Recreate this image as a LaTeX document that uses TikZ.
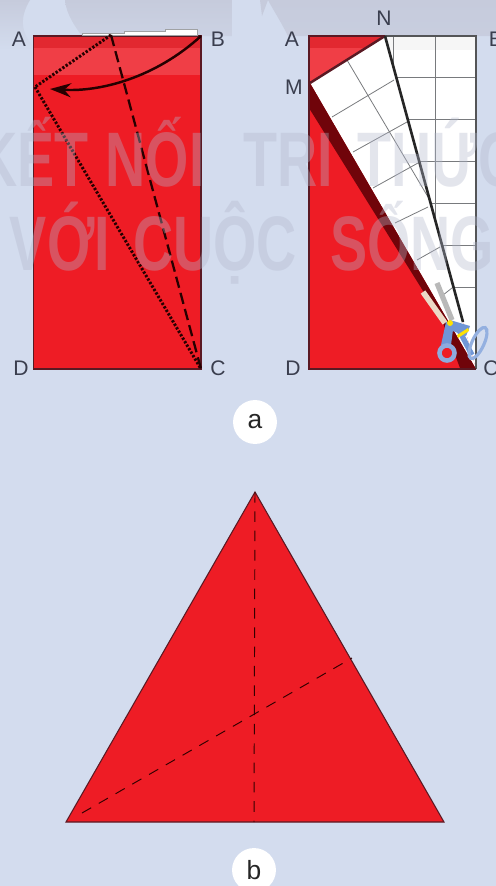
\documentclass[tikz,border=0pt]{standalone}
\usepackage{xcolor}
\usepackage{fontspec}
\setmainfont{Liberation Sans}
\newfontfamily\narrowfont[FakeStretch=0.72]{Liberation Sans}
\usetikzlibrary{arrows.meta}
\definecolor{paperblue}{RGB}{211,220,238}
\definecolor{bandgray}{RGB}{198,203,220}
\definecolor{foldred}{RGB}{238,28,37}
\definecolor{lightred}{RGB}{240,62,70}
\definecolor{midred}{RGB}{226,40,48}
\definecolor{darkred}{RGB}{112,4,10}
\definecolor{edgedark}{RGB}{90,25,35}
\definecolor{labelgray}{RGB}{58,62,78}
\definecolor{gridgray}{RGB}{120,122,125}
\definecolor{markgray}{RGB}{178,183,204}
\definecolor{handleblue}{RGB}{112,150,214}
\tikzset{
  lab/.style={text=labelgray, font=\fontsize{12}{14}\selectfont, inner sep=0pt},
  badge/.style={circle, fill=white, draw=none, minimum size=25pt, inner sep=0pt, text=black!85, font=\fontsize{15}{17}\selectfont},
  sheet/.style={draw=edgedark, line width=0.6pt},
  dottedfold/.style={draw=black!85!red, line width=1.7pt, dash pattern=on 1.3pt off 1pt},
  dashedfold/.style={draw=black!85!red, line width=1.3pt, dash pattern=on 6.5pt off 3pt},
  thinfold/.style={draw=black!80!red, line width=0.55pt, dash pattern=on 6pt off 5pt},
  faintletter/.style={text=markgray, opacity=0.36, font=\narrowfont\bfseries\fontsize{44}{48}\selectfont, inner sep=0pt, anchor=base}
}
\begin{document}
\begin{tikzpicture}[x=0.02cm,y=-0.02cm]
    % Page and the grey band at the top
    \useasboundingbox (0,0) rectangle (496,886);
    \fill[paperblue] (0,0) rectangle (496,886);
    \shade[top color=bandgray, bottom color=paperblue] (0,0) -- (30,0) .. controls (18,20) and (22,35) .. (36,50) -- (0,50) -- cycle;
    \shade[top color=bandgray, bottom color=bandgray!60!paperblue] (65,0) -- (232,0) -- (232,36) -- (82,36) .. controls (70,20) and (66,10) .. (65,0) -- cycle;
    \shade[top color=bandgray, bottom color=bandgray!85!paperblue] (268,0) -- (496,0) -- (496,36) -- (288,36) .. controls (280,20) and (272,8) .. (268,0) -- cycle;
    \fill[bandgray] (260,0) -- (268,0) -- (262,16) -- cycle;

    % Corners of the two sheets
    \coordinate (A1) at (33.5,36);
    \coordinate (B1) at (201,36);
    \coordinate (C1) at (201,369);
    \coordinate (D1) at (33.5,369);
    \coordinate (N1) at (111,35);
    \coordinate (M1) at (35,87);
    \coordinate (A2) at (309,36);
    \coordinate (B2) at (476,36);
    \coordinate (C2) at (476,369);
    \coordinate (D2) at (309,369);
    \coordinate (N2) at (385,36);
    \coordinate (M2) at (310,83);

    % Left sheet with its paler top part
    \fill[foldred] (A1) rectangle (C1);
    \fill[lightred] (A1) rectangle (201,75);
    \fill[midred] (A1) rectangle (201,48);
    \draw[sheet] (A1) -- (B1) -- (C1) -- (D1) -- cycle;

    % Paper sticking out above the left sheet
    \filldraw[fill=white, draw=gridgray!70, line width=0.5pt] (82,35) -- (82,33.5) -- (124,33.5) -- (124,31) -- (165,31) -- (165,29.5) -- (197,29.5) -- (197,35) -- cycle;

    % Fold lines on the left sheet
    \draw[dottedfold] (N1) -- (M1);
    \draw[dottedfold] (M1) -- (C1);
    \draw[dashedfold] (N1) -- (C1);

    % Arrow of the fold
    \coordinate (arrowend) at (50,89);
    \draw[black!85!red, line width=1.4pt, -{Stealth[length=12pt,width=8pt]}] (B1) .. controls (155,78) and (100,92) .. (arrowend);

    % Right sheet
    \fill[foldred] (A2) rectangle (C2);
    \fill[lightred] (A2) rectangle (385,83);
    \fill[midred] (A2) rectangle (385,48);
    \fill[white] (N2) -- (B2) -- (C2) -- cycle;
    \fill[white!93!gray] (N2) rectangle (476,50);
    \fill[white] (N2) -- (M2) -- (C2) -- cycle;

    % Dark underside along the cut
    \fill[darkred] (309,83) -- (309,108) -- (443,323) -- (460,368) -- (C2) -- (M2) -- cycle;

    % Square grid on the part that stays flat
    \begin{scope}
        \clip (N2) -- (B2) -- (C2) -- cycle;
        \foreach \x in {393,435} {
            \draw[gridgray, line width=0.5pt] (\x,36) -- (\x,369);
        }
        \foreach \y in {77,119,161,203,245,287} {
            \draw[gridgray, line width=0.5pt] (385,\y) -- (476,\y);
        }
    \end{scope}

    % Slanted grid on the folded part
    \begin{scope}
        \clip (N2) -- (M2) -- (C2) -- cycle;
        \draw[gridgray, line width=0.45pt] (347,60) -- (428,197) -- (462,255);
        \foreach \xa/\ya/\xb/\yb in {332/117/394/80, 353/152/407/122, 373/188/418/163, 395/223/428/207, 417/260/440/247, 443/295/452/288} {
            \draw[gridgray, line width=0.45pt] (\xa,\ya) -- (\xb,\yb);
        }
    \end{scope}

    % Edges of the right sheet and the two cuts
    \draw[gridgray!70!black, line width=0.6pt] (N2) -- (B2) -- (C2);
    \draw[edgedark, line width=0.6pt] (N2) -- (A2) -- (D2) -- (C2);
    \draw[edgedark, line width=1.4pt] (M2) -- (N2);
    \coordinate (cutend) at (463,322);
    \draw[black!85, line width=1.5pt] (N2) -- (cutend);

    % Scissors at the end of the cut
    \draw[brown!30!white, line width=3.2pt] (423,292) -- (445,323);
    \draw[gray!55, line width=3pt] (437,283) -- (452,320);
    \fill[handleblue] (446,322) -- (454,322) -- (451,345) -- (441,345) -- cycle;
    \fill[handleblue] (450,320) -- (470,326) -- (466,336) -- (450,330) -- cycle;
    \draw[handleblue, line width=3pt] (459,330) -- (472,355);
    \filldraw[fill=foldred, draw=handleblue!80!white, line width=2.6pt] (447,353) circle (7.5);
    \draw[handleblue!75!white, line width=1.8pt, rotate around={-25:(478,343)}] (478,343) ellipse (6 and 17);
    \fill[yellow!85!orange] (450,323) circle (3);
    \fill[yellow!85!orange] (457,335) -- (468,328) -- (469,331) -- (458,338) -- cycle;

    % Cut-out triangle
    \coordinate (top) at (255,492);
    \coordinate (left) at (66,822);
    \coordinate (right) at (444,822);
    \coordinate (foot) at (254,822);
    \coordinate (medstart) at (82,813);
    \coordinate (medend) at (352,658);
    \filldraw[fill=foldred, draw=edgedark, line width=0.6pt] (top) -- (right) -- (left) -- cycle;
    \draw[thinfold] (top) -- (foot);
    \draw[thinfold] (medstart) -- (medend);

    % Faint lettering across the upper part
    \node[faintletter] (markKET) at (33,186) {KẾT};
    \node[faintletter] (markNOI) at (155,186) {NỐI};
    \node[faintletter] (markTRI) at (288,186) {TRI};
    \node[faintletter] (markTHUC) at (438,186) {THỨC};
    \node[faintletter] (markVOI) at (60,270) {VỚI};
    \node[faintletter] (markCUOC) at (215,270) {CUỘC};
    \node[faintletter] (markSONG) at (412,270) {SỐNG};

    % Letters at the corners
    \node[lab] (labA1) at (19,39) {A};
    \node[lab] (labB1) at (218,39) {B};
    \node[lab] (labC1) at (218,368) {C};
    \node[lab] (labD1) at (21,368) {D};
    \node[lab] (labA2) at (292,39) {A};
    \node[lab] (labB2) at (496,39) {B};
    \node[lab] (labC2) at (491,368) {C};
    \node[lab] (labD2) at (293,368) {D};
    \node[lab] (labM2) at (294,87) {M};
    \node[lab] (labN2) at (384,18) {N};

    % Round captions
    \node[badge] (capa) at (255,422) {a};
    \node[badge] (capb) at (254,870) {b};
\end{tikzpicture}
\end{document}
